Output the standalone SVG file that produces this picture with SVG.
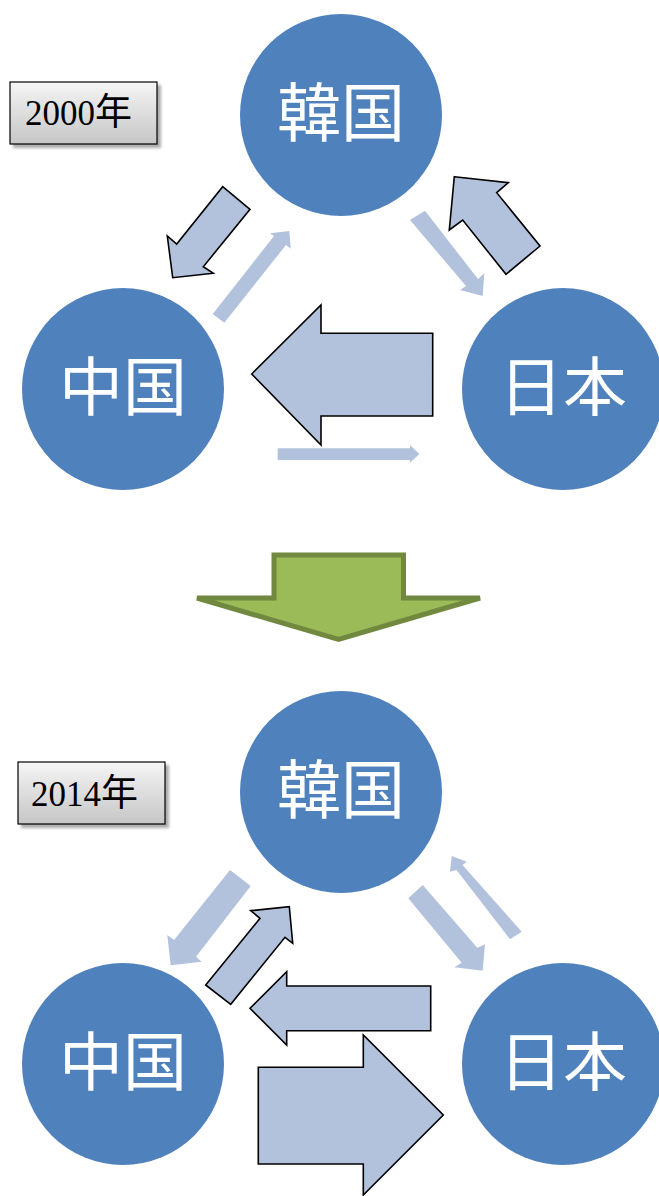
<svg xmlns="http://www.w3.org/2000/svg" width="659" height="1196" viewBox="0 0 659 1196">
<style>
.node{fill:#4f81bd}
.lbl{fill:#fff;font-family:"Noto Sans CJK JP","Noto Sans CJK SC",sans-serif;font-size:64px;text-anchor:middle}
.yr{font-family:"Liberation Serif","Noto Sans CJK JP",serif;font-size:35px;fill:#000}
.lt{fill:#b2c2dd;stroke:none}
.dk{fill:#b2c2dd;stroke:#000;stroke-width:1.6;stroke-linejoin:miter}
.box{fill:url(#g);stroke:#000;stroke-width:1.2}
.sh{fill:#666;opacity:0.55;filter:url(#blur)}
</style>
<defs>
<linearGradient id="g" x1="0" y1="0" x2="0" y2="1">
<stop offset="0" stop-color="#f5f5f5"/>
<stop offset="1" stop-color="#c6c6c6"/>
</linearGradient>
<filter id="blur" x="-10%" y="-10%" width="130%" height="140%"><feGaussianBlur stdDeviation="1.5"/></filter>
</defs>
<rect width="659" height="1196" fill="#fff"/>

<g id="year2000">
<rect class="sh" x="13" y="85" width="148" height="63"/>
<rect class="box" x="10" y="82" width="147" height="62"/>
<text class="yr" x="25" y="125">2000<tspan font-size="37">年</tspan></text>
</g>
<g id="year2014">
<rect class="sh" x="21" y="765" width="148" height="63"/>
<rect class="box" x="18" y="762" width="147" height="62"/>
<text class="yr" x="31" y="806">2014<tspan font-size="37">年</tspan></text>
</g>

<g id="korea1"><circle class="node" cx="341" cy="115" r="101"/><text class="lbl" x="341" y="136">韓国</text></g>
<g id="china1"><circle class="node" cx="123" cy="389" r="101"/><text class="lbl" x="123" y="410">中国</text></g>
<g id="japan1"><circle class="node" cx="563" cy="389" r="101"/><text class="lbl" x="563" y="410">日本</text></g>

<g id="korea2"><circle class="node" cx="341" cy="792" r="101"/><text class="lbl" x="341" y="813">韓国</text></g>
<g id="china2"><circle class="node" cx="123" cy="1064" r="101"/><text class="lbl" x="123" y="1085">中国</text></g>
<g id="japan2"><circle class="node" cx="563" cy="1064" r="101"/><text class="lbl" x="563" y="1085">日本</text></g>

<g id="connectors">
<polygon class="dk" points="222.7,186.7 250,209.3 203.3,266.7 213.3,273.3 172.7,277.7 167.3,236 176.7,244"/>
<polygon class="lt" points="212.7,314 274,236 270,233.3 289.3,231 290.7,248.7 286,245 224.3,322.7"/>
<polygon class="dk" points="454.3,176.7 508.3,182.7 496.7,192.7 540,246 506,274.3 462.7,220 449.3,230"/>
<polygon class="lt" points="410,220 425,210.7 478,279 484.3,273.3 482.7,296 460,290 466,286"/>
<polygon class="dk" points="251.7,374 321,305 321,333.3 432.7,333.3 432.7,416 321,416 321,445"/>
<polygon class="lt" points="277.7,448.3 410,448.3 410,445 419.3,454 410,462.7 410,460 277.7,460"/>

<polygon fill="#9bbb59" stroke="#71893f" stroke-width="5" stroke-linejoin="miter" points="274,555 403.5,555 403.5,598 480,598 338.5,639.5 197,598 274,598"/>

<polygon class="lt" points="230,870 250.7,886 196,956.7 201.7,961.7 170.7,965.3 167.3,935 174,940"/>
<polygon class="dk" points="205.7,985 260,918.3 250.7,910.7 289.3,906.7 292.7,943.3 285,937.3 230.7,1004.3"/>
<polygon class="lt" points="408.3,898.3 422.7,885 477.3,947.7 485,944.3 482.7,970.7 454.3,967.3 461.7,962.7"/>
<polygon class="lt" points="451.7,856 466.7,861.7 462.5,865 521.7,931.7 510,939.3 456.5,870 450,871.7"/>
<polygon class="dk" points="250,1008.3 286.7,971.7 286.7,986 430.7,986 430.7,1030.7 286.7,1030.7 286.7,1045"/>
<polygon class="dk" points="258.3,1067.3 363.3,1067.3 363.3,1035 443.3,1115 363.3,1195 363.3,1164 258.3,1164"/>
</g>
</svg>
